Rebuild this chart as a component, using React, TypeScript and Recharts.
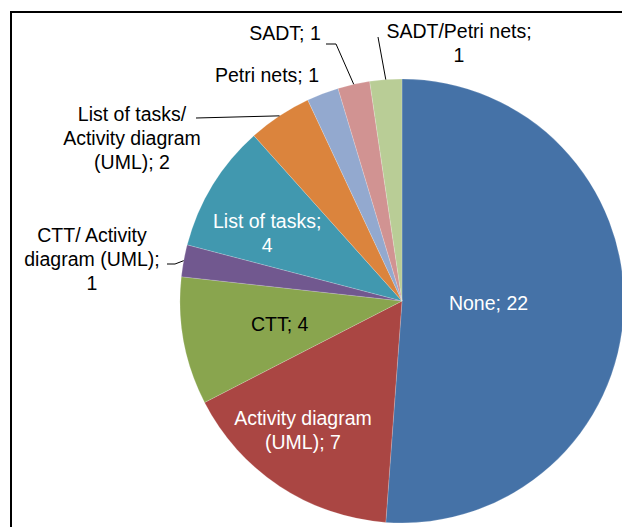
import { PieChart, Pie, Cell } from 'recharts';

// slices, clockwise from 12 o'clock
const categories = [
    'None',
    'Activity diagram (UML)',
    'CTT',
    'CTT/ Activity diagram (UML)',
    'List of tasks',
    'List of tasks/ Activity diagram (UML)',
    'Petri nets',
    'SADT',
    'SADT/Petri nets',
];
const counts = [22, 7, 4, 1, 4, 2, 1, 1, 1];
const labelLines = [
    ['None; 22'],
    ['Activity diagram', '(UML); 7'],
    ['CTT; 4'],
    ['CTT/ Activity', 'diagram (UML);', '1'],
    ['List of tasks;', '4'],
    ['List of tasks/', 'Activity diagram', '(UML); 2'],
    ['Petri nets; 1'],
    ['SADT; 1'],
    ['SADT/Petri nets;', '1'],
];
const colors = ['#4572A7', '#AA4643', '#89A54E', '#71588F', '#4198AF', '#DB843D', '#93A9CF', '#D19392', '#B9CD96'];

const data = categories.map((name, i) => ({ name, value: counts[i], lines: labelLines[i] }));

const RAD = Math.PI / 180;
const LINE_H = 24;

// label placement: inside labels by radius fraction, outside ones by offset from the pie centre
type Place =
    | { inside: true; r: number; dx: number; dy: number; fill: string }
    | { inside: false; tx: number; ty: number; leader: Array<[number, number]> };

const placement: Place[] = [
    { inside: true, r: 0.39, dx: 0, dy: -1, fill: '#ffffff' },
    { inside: true, r: 0.735, dx: -9, dy: -7, fill: '#ffffff' },
    { inside: true, r: 0.56, dx: 0, dy: 0, fill: '#000000' },
    { inside: false, tx: -310, ty: -42, leader: [[-235, -37], [-227, -37]] },
    { inside: true, r: 0.68, dx: -6, dy: 11, fill: '#ffffff' },
    { inside: false, tx: -270, ty: -163, leader: [[-206, -183]] },
    { inside: false, tx: -135, ty: -226, leader: [] },
    { inside: false, tx: -117, ty: -268, leader: [[-76, -257], [-66, -257]] },
    { inside: false, tx: 57, ty: -258, leader: [[-24, -264]] },
];

const renderLabel = (props: any) => {
    const { cx, cy, midAngle, outerRadius, index } = props;
    const p = placement[index];
    const lines: string[] = data[index].lines;
    const cos = Math.cos(-midAngle * RAD);
    const sin = Math.sin(-midAngle * RAD);
    let x: number;
    let y: number;
    let fill = '#000000';
    let leader: JSX.Element | null = null;
    if (p.inside) {
        x = cx + outerRadius * p.r * cos + p.dx;
        y = cy + outerRadius * p.r * sin + p.dy;
        fill = p.fill;
    } else {
        x = cx + p.tx;
        y = cy + p.ty;
        if (p.leader.length) {
            const pts = [...p.leader.map(([a, b]) => [cx + a, cy + b]), [cx + outerRadius * cos, cy + outerRadius * sin]];
            leader = <polyline points={pts.map(q => q.join(',')).join(' ')} fill="none" stroke="#000" strokeWidth={1} />;
        }
    }
    return (
        <g key={`lbl-${index}`}>
            {leader}
            {lines.map((t, i) => (
                <text
                    key={i}
                    x={x}
                    y={y + (i - (lines.length - 1) / 2) * LINE_H}
                    textAnchor="middle"
                    dominantBaseline="central"
                    fill={fill}
                    fontSize={19.5}
                    fontFamily="'Liberation Sans', Arial, sans-serif"
                >
                    {t}
                </text>
            ))}
        </g>
    );
};

export default function App() {
    return (
        <div style={{ position: 'absolute', left: 0, top: 0, width: 622, height: 527, overflow: 'hidden', background: '#fff' }}>
            <div style={{ position: 'absolute', left: 10, top: 11, width: 700, height: 600, border: '2px solid #000' }} />
            <div style={{ position: 'absolute', left: 0, top: 0 }}>
                <PieChart width={622} height={527} margin={{ top: 0, right: 0, bottom: 0, left: 0 }}>
                    <Pie
                        data={data}
                        dataKey="value"
                        nameKey="name"
                        cx={402}
                        cy={301}
                        outerRadius={222}
                        startAngle={90}
                        endAngle={-270}
                        stroke="#ffffff"
                        strokeWidth={0.3}
                        strokeOpacity={0.6}
                        label={renderLabel}
                        labelLine={false}
                        isAnimationActive={false}
                    >
                        {data.map((entry, index) => (
                            <Cell key={`cell-${index}`} fill={colors[index]} />
                        ))}
                    </Pie>
                </PieChart>
            </div>
        </div>
    );
}
